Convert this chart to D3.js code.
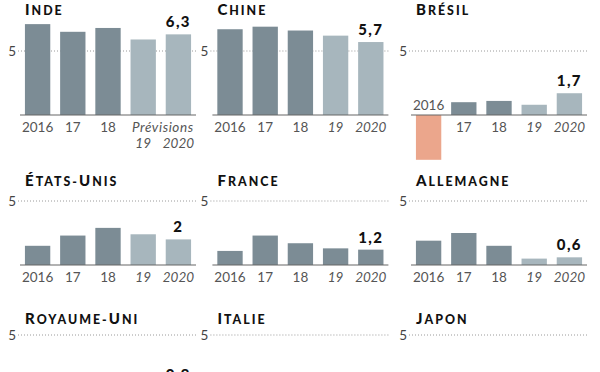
<!DOCTYPE html>
<html><head><meta charset="utf-8">
<script src="https://cdn.jsdelivr.net/npm/d3@7"></script>
<style>
html,body{margin:0;padding:0;background:#fff;overflow:hidden;}
svg text{font-family:Lato,"Open Sans",sans-serif;}
</style></head>
<body><div id="chart"></div>
<script>
// données (croissance du PIB, %)
const years = ["2016","17","18","19","2020"];
const forecastYears = ["19","2020"];
const countries = ["Inde","Chine","Brésil","États-Unis","France","Allemagne","Royaume-Uni","Italie","Japon"];
const inde       = [7.1, 6.5, 6.8, 5.9, 6.3];
const chine      = [6.7, 6.9, 6.6, 6.2, 5.7];
const bresil     = [-3.5, 1.0, 1.1, 0.8, 1.7];
const etatsUnis  = [1.5, 2.3, 2.9, 2.4, 2.0];
const france     = [1.1, 2.3, 1.7, 1.3, 1.2];
const allemagne  = [1.9, 2.5, 1.5, 0.5, 0.6];
const royaumeUni = [1.9, 1.8, 1.4, 1.0, 0.9];
const italie     = [1.3, 1.7, 0.9, 0.0, 0.4];
const japon      = [0.6, 1.9, 0.8, 1.0, 0.6];
const gridTick = 5;
const series = [inde, chine, bresil, etatsUnis, france, allemagne, royaumeUni, italie, japon];

(function(){
  const W = 600, H = 372;
  const svg = d3.select("#chart").append("svg")
      .attr("width", W).attr("height", H);

  const colX0 = [20, 212.4, 411], panelW = 176;
  const rowBase = [115, 265, 399], titleY = [15, 186, 324];
  const unitH = 64; // hauteur de 0 à 5
  const dark = "#7c8c95", light = "#a7b6bd", neg = "#eba68c";

  const fmt = v => Number.isInteger(v) ? String(v) : v.toFixed(1).replace(".", ",");

  function title(sel, str){
    // petites capitales : première lettre de chaque mot en grand
    let groups = [];
    [...str.toUpperCase()].forEach((ch, i, arr) => {
      const big = i === 0 || arr[i-1] === " " || arr[i-1] === "-";
      const last = groups[groups.length-1];
      if (last && last.big === big) last.s += ch; else groups.push({big, s: ch});
    });
    sel.selectAll("tspan").data(groups).join("tspan")
      .attr("font-size", d => d.big ? 15 : 12.4)
      .text(d => d.s);
  }

  countries.forEach((name, i) => {
    const row = Math.floor(i/3), col = i % 3;
    const x0 = colX0[col], base = rowBase[row];
    const vals = series[i];
    const data = years.map((yr, k) => ({yr, v: vals[k], fc: forecastYears.includes(yr)}));

    const x = d3.scaleBand().domain(years).range([x0, x0 + panelW])
        .paddingInner(0.28).paddingOuter(0.14);
    const y = d3.scaleLinear().domain([0, gridTick]).range([base, base - unitH]);
    const g = svg.append("g").attr("class", "panel");

    // titre
    g.append("text")
      .attr("x", x0 + 5).attr("y", titleY[row])
      .attr("font-weight", 900).attr("letter-spacing", 2)
      .attr("fill", "#111")
      .call(title, name);

    // ligne à 5
    g.append("line")
      .attr("x1", x0 - 2).attr("x2", x0 + panelW)
      .attr("y1", y(gridTick)).attr("y2", y(gridTick))
      .attr("stroke", "#9a9a9a").attr("stroke-dasharray", "1,2");
    g.append("text")
      .attr("x", x0 - 4).attr("y", y(gridTick) + 4.5)
      .attr("text-anchor", "end").attr("font-size", 13.5).attr("fill", "#444")
      .text(gridTick);

    // barres
    g.selectAll("rect").data(data).join("rect")
      .attr("x", d => x(d.yr)).attr("width", x.bandwidth())
      .attr("y", d => Math.min(y(d.v), y(0)))
      .attr("height", d => Math.abs(y(d.v) - y(0)))
      .attr("fill", d => d.v < 0 ? neg : (d.fc && name !== "France" ? light : dark));

    // axe
    g.append("line")
      .attr("x1", x0).attr("x2", x0 + panelW)
      .attr("y1", y(0)).attr("y2", y(0))
      .attr("stroke", "#666").attr("stroke-width", 1.2);

    // étiquettes des années (celles qui tombent sous le bas de l'image sont omises)
    const tickY = d => d.v < 0 ? y(0) - 5 : (i === 0 && d.fc ? y(0) + 33 : y(0) + 16.5);
    g.selectAll("text.tick").data(data.filter(d => tickY(d) - 11 < H)).join("text")
      .attr("class", "tick")
      .attr("x", d => x(d.yr) + x.bandwidth()/2)
      .attr("y", tickY)
      .attr("text-anchor", "middle").attr("font-size", 13.5).attr("fill", "#555")
      .attr("font-style", d => d.fc ? "italic" : null)
      .text(d => d.yr);
    if (i === 0) {
      g.append("text")
        .attr("x", (x("19") + x("2020") + x.bandwidth())/2 + 2).attr("y", y(0) + 16.5)
        .attr("text-anchor", "middle").attr("font-size", 13.5).attr("fill", "#555")
        .attr("font-style", "italic").attr("letter-spacing", 0.6)
        .text("Prévisions");
    }

    // valeur 2020
    const lastD = data[data.length - 1];
    g.append("text")
      .attr("x", x(lastD.yr) + x.bandwidth()/2)
      .attr("y", y(lastD.v) - 7)
      .attr("text-anchor", "middle").attr("font-size", 15)
      .attr("font-weight", 900).attr("letter-spacing", 1.4).attr("fill", "#111")
      .text(fmt(lastD.v));
  });
})();
</script>
</body></html>
